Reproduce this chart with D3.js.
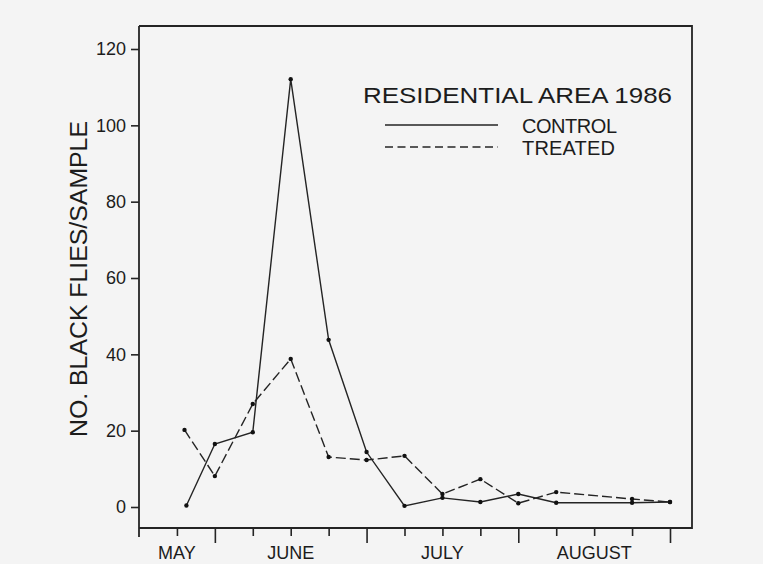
<!DOCTYPE html>
<html>
<head>
<meta charset="utf-8">
<script src="https://cdn.jsdelivr.net/npm/d3@7"></script>
<style>
  html, body { margin: 0; padding: 0; background: #f4f4f4; }
  svg { display: block; }
  text { font-family: "Liberation Sans", Arial, sans-serif; fill: #1c1c1c; }
</style>
</head>
<body>
<script>
// ---- data ----
const title = "RESIDENTIAL AREA 1986";
const yLabel = "NO. BLACK FLIES/SAMPLE";
const seriesNames = ["CONTROL", "TREATED"];
// x in weeks from start of May (week ticks), values = flies/sample
const controlX = [1.25, 2, 3, 4, 5, 6, 7, 8, 9, 10, 11, 13, 14];
const controlY = [0.4, 16.5, 19.6, 112.1, 43.8, 14.4, 0.3, 2.4, 1.3, 3.4, 1.1, 1.1, 1.3];
const treatedX = [1.2, 2, 3, 4, 5, 6, 7, 8, 9, 10, 11, 13, 14];
const treatedY = [20.2, 8.1, 27.0, 38.8, 13.1, 12.3, 13.4, 3.4, 7.3, 1.0, 3.9, 2.1, 1.3];
const monthLabels = ["MAY", "JUNE", "JULY", "AUGUST"];
const monthCenters = [1, 4, 8, 12];
const weekTicks = d3.range(0, 15);
const monthBoundaryTicks = [2, 6, 10, 14];
const yTicks = [0, 20, 40, 60, 80, 100, 120];

// ---- layout ----
const W = 763, H = 564;
const frame = { left: 139, right: 692, top: 26, bottom: 528 };
const x = d3.scaleLinear().domain([0, 14]).range([139, 670]);
const y = d3.scaleLinear().domain([0, 120]).range([507, 49]);
const ink = "#242424";

const svg = d3.select("body").append("svg").attr("width", W).attr("height", H);
svg.append("rect").attr("width", W).attr("height", H).attr("fill", "#f4f4f4");

// frame (top, right, bottom) and left axis line extending below
const g = svg.append("g");
g.append("path")
  .attr("d", `M${frame.left},${frame.top}H${frame.right}V${frame.bottom}H${frame.left}`)
  .attr("fill", "none").attr("stroke", ink).attr("stroke-width", 1.8);
g.append("line")
  .attr("x1", frame.left).attr("x2", frame.left)
  .attr("y1", frame.top).attr("y2", 537)
  .attr("stroke", ink).attr("stroke-width", 1.8);

// y axis
const yAxis = d3.axisLeft(y).tickValues(yTicks).tickSize(8).tickPadding(5).tickFormat(d3.format("d"));
const yg = svg.append("g").attr("transform", `translate(${frame.left},0)`).call(yAxis);
yg.select(".domain").remove();
yg.selectAll(".tick line").attr("stroke", ink).attr("stroke-width", 1.6);
yg.selectAll(".tick text").attr("font-size", 18).attr("fill", "#1c1c1c")
  .attr("font-family", '"Liberation Sans", Arial, sans-serif');

// x axis ticks (weeks) — long ticks at month boundaries
const xAxis = d3.axisBottom(x).tickValues(weekTicks.filter(d => d > 0)).tickSize(8).tickFormat("");
const xg = svg.append("g").attr("transform", `translate(0,${frame.bottom})`).call(xAxis);
xg.select(".domain").remove();
xg.selectAll(".tick line")
  .attr("stroke", ink).attr("stroke-width", 1.6)
  .attr("y2", d => monthBoundaryTicks.includes(d) ? 15 : 8);

// month labels
svg.append("g").selectAll("text").data(monthLabels).join("text")
  .attr("x", (d, i) => x(monthCenters[i]))
  .attr("y", 559)
  .attr("text-anchor", "middle")
  .attr("font-size", 18)
  .text(d => d);

// y label
svg.append("text")
  .attr("transform", "translate(87,279) rotate(-90)")
  .attr("text-anchor", "middle")
  .attr("font-size", 23)
  .attr("textLength", 316)
  .attr("lengthAdjust", "spacingAndGlyphs")
  .text(yLabel);

// lines
const line = d3.line().x(d => x(d[0])).y(d => y(d[1]));
const control = controlX.map((v, i) => [v, controlY[i]]);
const treated = treatedX.map((v, i) => [v, treatedY[i]]);

svg.append("path").datum(treated).attr("d", line)
  .attr("fill", "none").attr("stroke", ink).attr("stroke-width", 1.4)
  .attr("stroke-dasharray", "10,4");
svg.append("path").datum(control).attr("d", line)
  .attr("fill", "none").attr("stroke", ink).attr("stroke-width", 1.4);

svg.append("g").selectAll("circle").data(control.concat(treated)).join("circle")
  .attr("cx", d => x(d[0])).attr("cy", d => y(d[1])).attr("r", 2.2).attr("fill", "#111");

// legend
svg.append("text").attr("x", 363).attr("y", 103).attr("font-size", 21.5)
  .attr("textLength", 309).attr("lengthAdjust", "spacingAndGlyphs").text(title);
const legY = [125, 147];
seriesNames.forEach((name, i) => {
  svg.append("line").attr("x1", 385).attr("x2", 498).attr("y1", legY[i]).attr("y2", legY[i])
    .attr("stroke", ink).attr("stroke-width", 1.4)
    .attr("stroke-dasharray", i === 1 ? "8,4.5" : null);
  svg.append("text").attr("x", 522).attr("y", legY[i] + 7.5).attr("font-size", 20)
    .attr("textLength", i === 0 ? 95 : 93).text(name);
});
</script>
</body>
</html>
